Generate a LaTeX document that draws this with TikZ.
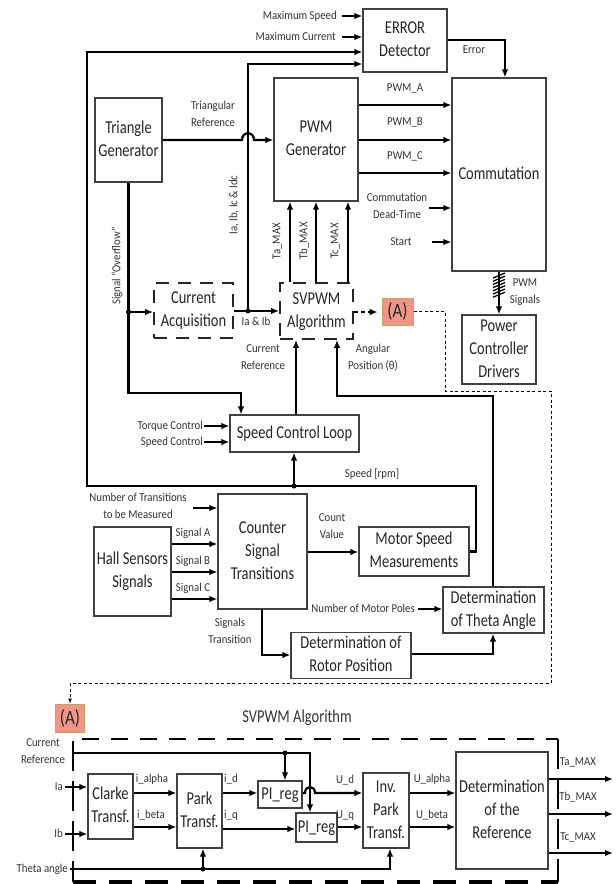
\documentclass[tikz,border=0pt]{standalone}
\usepackage{fontspec}
\setmainfont{Carlito}
\usepackage{graphicx}
\usetikzlibrary{arrows.meta}
\definecolor{asalmon}{RGB}{240,150,136}
\definecolor{aborder}{RGB}{200,160,100}
\newcommand\bt[1]{\scalebox{1}[1.25]{\fontsize{14.5}{18.4}\selectfont\begin{tabular}{@{}c@{}}#1\end{tabular}}}
\newcommand\lb[1]{\scalebox{1}[1.12]{\fontsize{10.8}{15.2}\selectfont\begin{tabular}{@{}c@{}}#1\end{tabular}}}
\newcommand\atxt[1]{\scalebox{1}[1.2]{\fontsize{17}{20}\selectfont #1}}
\begin{document}
\begin{tikzpicture}[x=1pt,y=-1pt,
  box/.style={draw=black!75, line width=1.1pt, fill=white, inner sep=0pt, text=black!85},
  dbox/.style={draw=black!85, line width=1.7pt, dash pattern=on 13pt off 9pt, inner sep=0pt, text=black!85},
  abox/.style={draw=aborder, line width=1pt, fill=asalmon, inner sep=0pt, text=black!85},
  arr/.style={line width=2.2pt, -{Latex[length=8pt,width=6.5pt]}},
  ln/.style={line width=2.2pt},
  lbl/.style={inner sep=0pt, text=black!80},
  dot/.style={circle, fill=black, inner sep=0pt, minimum size=5pt},
  hatch/.style={line width=1.3pt}]
\useasboundingbox (0,0) rectangle (616,884);

% ---------- boxes (upper part) ----------
\node[box, minimum width=84, minimum height=63] (err) at (405,40.5) {\bt{ERROR\\Detector}};
\node[box, minimum width=67, minimum height=84] (tg) at (128.5,140) {\bt{Triangle\\Generator}};
\node[box, minimum width=84, minimum height=123] (pwm) at (316,139.5) {\bt{PWM\\Generator}};
\node[box, minimum width=94, minimum height=193] (com) at (499,174.5) {\bt{Commutation}};
\node[dbox, minimum width=79, minimum height=55] (ca) at (193.5,310.5) {\bt{Current\\Acquisition}};
\node[dbox, minimum width=73, minimum height=56] (sv) at (316.5,311) {\bt{SVPWM\\Algorithm}};
\node[abox, minimum width=31, minimum height=27] (a1) at (397.5,311.5) {\atxt{(A)}};
\node[box, minimum width=74, minimum height=69] (pcd) at (499,349.5) {\bt{Power\\Controller\\Drivers}};
\node[box, minimum width=129, minimum height=37] (scl) at (294.5,433.5) {\bt{Speed Control Loop}};
\node[box, minimum width=89, minimum height=115] (cst) at (262.5,551.5) {\bt{Counter\\Signal\\Transitions}};
\node[box, minimum width=77, minimum height=89] (hall) at (132.5,571.5) {\bt{Hall Sensors\\Signals}};
\node[box, minimum width=110, minimum height=49] (msm) at (414,551.5) {\bt{Motor Speed\\Measurements}};
\node[box, minimum width=101, minimum height=42] (th) at (493.5,610) {\bt{Determination\\of Theta Angle}};
\node[box, minimum width=120, minimum height=43] (rp) at (351,655.5) {\bt{Determination of\\Rotor Position}};
\node[abox, minimum width=29, minimum height=28] (a2) at (70,718) {\atxt{(A)}};

% ---------- labels (upper part) ----------
\node[lbl, anchor=east] (lms) at (337,16) {\lb{Maximum Speed}};
\node[lbl, anchor=east] (lmc) at (336,37) {\lb{Maximum Current}};
\node[lbl] (ltr) at (213,115) {\lb{Triangular\\Reference}};
\node[lbl] (lerr) at (474,50) {\lb{Error}};
\node[lbl] (lpa) at (405,88) {\lb{PWM\_A}};
\node[lbl] (lpb) at (405,122) {\lb{PWM\_B}};
\node[lbl] (lpc) at (405,156) {\lb{PWM\_C}};
\node[lbl] (ldt) at (397,207) {\lb{Commutation\\Dead-Time}};
\node[lbl] (lst) at (401,242) {\lb{Start}};
\node[lbl] (lps) at (525,292) {\lb{PWM\\Signals}};
\node[lbl, rotate=90] (lta) at (277,241) {\lb{Ta\_MAX}};
\node[lbl, rotate=90] (ltb) at (304,241) {\lb{Tb\_MAX}};
\node[lbl, rotate=90] (ltc) at (335,241) {\lb{Tc\_MAX}};
\node[lbl, rotate=90] (lov) at (117,266) {\lb{Signal “Overflow”}};
\node[lbl, rotate=90] (lidc) at (234,205) {\lb{Ia, Ib, Ic \& Idc}};
\node[lbl] (liab) at (256,322) {\lb{Ia \& Ib}};
\node[lbl] (lcr) at (263,358) {\lb{Current\\Reference}};
\node[lbl] (lang) at (373,358) {\lb{Angular\\Position (θ)}};
\node[lbl, anchor=east] (ltq) at (203,426) {\lb{Torque Control}};
\node[lbl, anchor=east] (lsc) at (203,442) {\lb{Speed Control}};
\node[lbl] (lrpm) at (372,474) {\lb{Speed [rpm]}};
\node[lbl] (lnt) at (138,507) {\lb{Number of Transitions\\to be Measured}};
\node[lbl] (lsa) at (193,533) {\lb{Signal A}};
\node[lbl] (lsb) at (193,561) {\lb{Signal B}};
\node[lbl] (lsc2) at (193,588) {\lb{Signal C}};
\node[lbl] (lcv) at (332,527) {\lb{Count\\Value}};
\node[lbl, anchor=east] (lmp) at (415,609) {\lb{Number of Motor Poles}};
\node[lbl] (lstr) at (230,632) {\lb{Signals\\Transition}};

% ---------- connectors (upper part) ----------
\draw[arr] ([xshift=5pt]lms.east) -- (err.west |- lms.east);
\draw[arr] ([xshift=6pt]lmc.east) -- (err.west |- lmc.east);
\draw[arr] (msm.east) -- (476,551.5) -- (476,486) -- (87,486) -- (87,52) -- (err.west |- 0,52);
\node[dot] (j1) at (248,311) {};
\draw[arr] (j1.center) -- (248,64) -- (err.west |- 0,64);
\draw[arr] (err.east |- 0,40) -- (505,40) -- (com.north -| 505,0);
\draw[arr] (tg.east) -- (242,140) .. controls (242,131) and (254,131) .. (254,140) -- (pwm.west |- 0,140);
\draw[arr] (pwm.east |- 0,105) -- (com.west |- 0,105);
\draw[arr] (pwm.east |- 0,140) -- (com.west |- 0,140);
\draw[arr] (pwm.east |- 0,173) -- (com.west |- 0,173);
\draw[arr] ([xshift=2pt]ldt.east |- 0,208) -- (com.west |- 0,208);
\draw[arr] (432,242) -- (com.west |- 0,242);
\draw[arr] (sv.north -| 290,0) -- (pwm.south -| 290,0);
\draw[arr] (sv.north -| 316,0) -- (pwm.south -| 316,0);
\draw[arr] (sv.north -| 348,0) -- (pwm.south -| 348,0);
\node[dot] (j2) at (128.5,312) {};
\draw[arr] (tg.south) -- (128.5,393) -- (241,393) -- (scl.north -| 241,0);
\draw[arr] (j2.center) -- (ca.west |- j2.center);
\draw[arr] (ca.east |- 0,311) -- (sv.west |- 0,311);
\draw[line width=2.6pt, dash pattern=on 4pt off 3pt, -{Latex[length=8pt,width=7pt]}] (sv.east |- 0,312) -- ([xshift=-4pt]a1.west |- 0,312);
\draw[line width=0.9pt, dash pattern=on 3pt off 2.5pt, -{Latex[length=5pt,width=4pt]}] (a1.east) -- (445,311.5) -- (445,391) -- (551,391) -- (551,683) -- (70,683) -- (a2.north);
\draw[arr] (com.south -| 499,0) -- (pcd.north -| 499,0);
\foreach \k in {0,...,6} {\draw[hatch] (493,{278+3.2*\k}) -- (505,{273+3.2*\k});}
\draw[arr] (scl.north -| 296,0) -- (sv.south -| 296,0);
\draw[arr] (th.north -| 493,0) -- (493,396) -- (337,396) -- (sv.south -| 337,0);
\draw[arr] ([xshift=1pt]ltq.east) -- (scl.west |- ltq.east);
\draw[arr] ([xshift=1pt]lsc.east) -- (scl.west |- lsc.east);
\node[dot] (j3) at (294,486) {};
\draw[arr] (j3.center) -- (scl.south -| j3.center);
\draw[arr] (193,508) -- (cst.west |- 0,508);
\draw[arr] (hall.east |- 0,544) -- (cst.west |- 0,544);
\draw[arr] (hall.east |- 0,572) -- (cst.west |- 0,572);
\draw[arr] (hall.east |- 0,599) -- (cst.west |- 0,599);
\draw[arr] (cst.east |- 0,552) -- (msm.west |- 0,552);
\draw[arr] ([xshift=3pt]lmp.east) -- (th.west |- lmp.east);
\draw[arr] (cst.south -| 262,0) -- (262,655) -- (rp.west |- 0,655);
\draw[arr] (rp.east |- 0,654) -- (493,654) -- (th.south -| 493,0);

% ---------- lower part: SVPWM algorithm ----------
\node[lbl] (title) at (297,718) {\bt{SVPWM Algorithm}};
\draw[line width=1.6pt, dash pattern=on 17pt off 12pt] (82,739) -- (558,739);
\draw[line width=1.6pt, dash pattern=on 30pt off 10pt] (558,739) -- (558,882);
\draw[line width=1.6pt, dash pattern=on 30pt off 10pt] (73,741) -- (73,882);
\draw[line width=3.5pt, dash pattern=on 23pt off 13pt] (73,882) -- (558,882);

\node[box, minimum width=45, minimum height=65] (cl) at (110.5,806.5) {\bt{Clarke\\Transf.}};
\node[box, minimum width=45, minimum height=74] (pk) at (199.5,811) {\bt{Park\\Transf.}};
\node[box, minimum width=44, minimum height=27] (pi1) at (280,794.5) {\bt{PI\_reg}};
\node[box, minimum width=41, minimum height=29] (pi2) at (316.5,827.5) {\bt{PI\_reg}};
\node[box, minimum width=46, minimum height=75] (inv) at (386,810.5) {\bt{Inv.\\Park\\Transf.}};
\node[box, minimum width=92, minimum height=117] (det) at (502,810.5) {\bt{Determination\\of the\\Reference}};

\node[lbl] (lcr2) at (43,752) {\lb{Current\\Reference}};
\node[lbl, anchor=east] (lia) at (63,787) {\lb{Ia}};
\node[lbl, anchor=east] (lib) at (63,834) {\lb{Ib}};
\node[lbl, anchor=east] (lth) at (68,869) {\lb{Theta angle}};
\node[lbl] (lal) at (152,779) {\lb{i\_alpha}};
\node[lbl] (lbe) at (151,815) {\lb{i\_beta}};
\node[lbl] (lid) at (231,779) {\lb{i\_d}};
\node[lbl] (liq) at (231,815) {\lb{i\_q}};
\node[lbl] (lud) at (345,780) {\lb{U\_d}};
\node[lbl] (luq) at (345,815) {\lb{U\_q}};
\node[lbl] (lua) at (432,779) {\lb{U\_alpha}};
\node[lbl] (lub) at (432,815) {\lb{U\_beta}};
\node[lbl] (lta2) at (578,762) {\lb{Ta\_MAX}};
\node[lbl] (ltb2) at (578,797) {\lb{Tb\_MAX}};
\node[lbl] (ltc2) at (578,837) {\lb{Tc\_MAX}};

\node[dot] (j4) at (285,753) {};
\draw[arr] (73,753) -- (310,753) -- (pi2.north -| 310,0);
\draw[arr] (j4.center) -- (pi1.north -| j4.center);
\draw[arr] ([xshift=2pt]lia.east) -- (cl.west |- lia.east);
\draw[arr] ([xshift=2pt]lib.east) -- (cl.west |- lib.east);
\draw[arr] (cl.east |- 0,793) -- (pk.west |- 0,793);
\draw[arr] (cl.east |- 0,827) -- (pk.west |- 0,827);
\draw[arr] (pk.east |- 0,793) -- (pi1.west |- 0,793);
\draw[arr] (pk.east |- 0,829) -- (pi2.west |- 0,829);
\draw[arr] (pi1.east |- 0,793) -- (305,793) .. controls (305,785) and (315,785) .. (315,793) -- (inv.west |- 0,793);
\draw[arr] (pi2.east |- 0,827) -- (inv.west |- 0,827);
\draw[arr] (inv.east |- 0,793) -- (det.west |- 0,793);
\draw[arr] (inv.east |- 0,827) -- (det.west |- 0,827);
\coordinate (oa) at (613,779);
\coordinate (ob) at (613,814);
\coordinate (oc) at (613,853);
\draw[arr] (det.east |- oa) -- (oa);
\draw[arr] (det.east |- ob) -- (ob);
\draw[arr] (det.east |- oc) -- (oc);
\node[dot] (j5) at (203,869) {};
\draw[arr] ([xshift=2pt]lth.east) -- (390,869) -- (inv.south -| 390,0);
\draw[arr] (j5.center) -- (pk.south -| j5.center);
\end{tikzpicture}
\end{document}
